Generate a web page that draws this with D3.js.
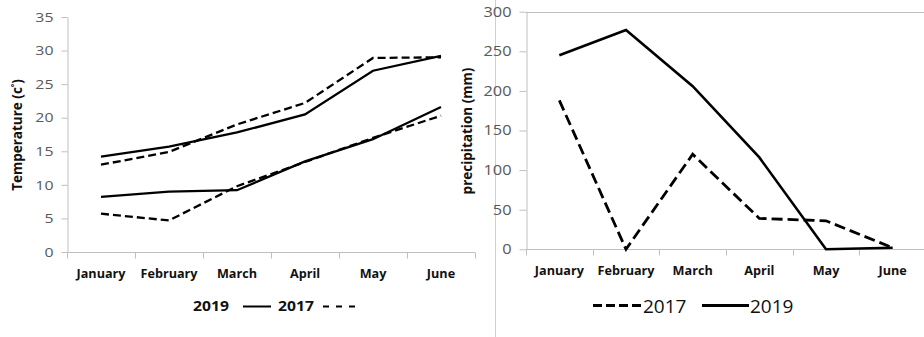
<!DOCTYPE html>
<html>
<head>
<meta charset="utf-8">
<script src="https://cdn.jsdelivr.net/npm/d3@7"></script>
<style>
  html, body { margin: 0; padding: 0; background: #fff; }
  svg { display: block; }
  text { font-family: "Open Sans", "Liberation Sans", sans-serif; }
</style>
</head>
<body>
<svg id="chart" width="924" height="337"></svg>
<script>
// Monthly data, January to June
const months = ["January", "February", "March", "April", "May", "June"];

// Temperature (°C): upper pair = maximum, lower pair = minimum
const tempMax2019 = [14.2, 15.7, 17.8, 20.5, 27.0, 29.2];
const tempMax2017 = [13.0, 14.9, 19.0, 22.2, 28.9, 29.0];
const tempMin2019 = [8.2, 9.0, 9.2, 13.5, 16.8, 21.6];
const tempMin2017 = [5.7, 4.7, 9.8, 13.4, 17.0, 20.3];

// Precipitation (mm)
const precip2017 = [188, 0, 120, 39, 36, 2];
const precip2019 = [245, 277, 206, 116, 0, 2];

const tempTicks = [0, 5, 10, 15, 20, 25, 30, 35];
const precipTicks = [0, 50, 100, 150, 200, 250, 300];

const svg = d3.select("#chart");
const axisColor = "#bfbfbf";

// Stretch text horizontally by factor k
function widen(sel, k) {
  sel.each(function () {
    const w = this.getComputedTextLength();
    this.setAttribute("textLength", w * k);
    this.setAttribute("lengthAdjust", "spacingAndGlyphs");
  });
}

function styleAxis(g) {
  g.select(".domain").attr("stroke", axisColor).attr("stroke-width", 1);
  g.selectAll(".tick line").attr("stroke", axisColor).attr("stroke-width", 1);
}

// Separator between the two panels
svg.append("line")
  .attr("x1", 495.5).attr("x2", 495.5)
  .attr("y1", 0).attr("y2", 337)
  .attr("stroke", "#cfcfcf").attr("stroke-width", 1);

// ---------- Temperature panel ----------
{
  const x = d3.scaleBand().domain(months).range([67, 475]);
  const y = d3.scaleLinear().domain([0, 35]).range([252, 17]);

  const yAxis = svg.append("g")
    .attr("transform", "translate(67.5,0)")
    .call(d3.axisLeft(y).tickValues(tempTicks).tickSize(6).tickPadding(8).tickSizeOuter(0));
  styleAxis(yAxis);
  yAxis.selectAll("text")
    .attr("fill", "#595959").style("font-size", "13px");
  widen(yAxis.selectAll("text"), 1.22);

  const xAxis = svg.append("g")
    .attr("transform", "translate(0,252.5)")
    .call(d3.axisBottom(x).tickSize(0).tickPadding(0));
  styleAxis(xAxis);
  xAxis.select(".domain").attr("d", "M67,0H475");
  xAxis.selectAll(".tick text")
    .attr("y", 25).attr("dy", 0)
    .attr("fill", "#111").style("font-size", "11.5px").style("font-weight", "bold");
  widen(xAxis.selectAll(".tick text"), 1.1);
  // tick marks at category boundaries
  const bounds = months.map(m => x(m)).concat([x.range()[1]]);
  xAxis.selectAll(".bound").data(bounds).join("line")
    .attr("class", "bound")
    .attr("x1", d => Math.round(d) + 0.5).attr("x2", d => Math.round(d) + 0.5)
    .attr("y1", 0).attr("y2", 6)
    .attr("stroke", axisColor);

  const line = d3.line()
    .x((d, i) => x(months[i]) + x.bandwidth() / 2)
    .y(d => y(d));

  const series = [
    { v: tempMax2019, dash: null },
    { v: tempMax2017, dash: "8,4" },
    { v: tempMin2019, dash: null },
    { v: tempMin2017, dash: "8,4" }
  ];
  svg.append("g").selectAll("path").data(series).join("path")
    .attr("d", d => line(d.v))
    .attr("fill", "none")
    .attr("stroke", "#000")
    .attr("stroke-width", 2.3)
    .attr("stroke-dasharray", d => d.dash);

  const yTitle = svg.append("text")
    .attr("transform", "translate(22,135) rotate(-90)")
    .attr("text-anchor", "middle")
    .attr("fill", "#111")
    .style("font-size", "13.5px").style("font-weight", "bold");
  yTitle.append("tspan").text("Temperature (c");
  yTitle.append("tspan").attr("dy", -5).style("font-size", "8px").text("°");
  yTitle.append("tspan").attr("dy", 5).text(")");

  // legend
  const lg = svg.append("g").style("font-size", "14px").style("font-weight", "bold").attr("fill", "#111");
  const t1 = lg.append("text").attr("x", 193).attr("y", 311).text("2019");
  widen(t1, 1.12);
  lg.append("line").attr("x1", 243).attr("x2", 271).attr("y1", 306.5).attr("y2", 306.5)
    .attr("stroke", "#000").attr("stroke-width", 2);
  const t2 = lg.append("text").attr("x", 278).attr("y", 311).text("2017");
  widen(t2, 1.12);
  lg.append("line").attr("x1", 323).attr("x2", 356).attr("y1", 306.5).attr("y2", 306.5)
    .attr("stroke", "#000").attr("stroke-width", 2.2).attr("stroke-dasharray", "6,7");
}

// ---------- Precipitation panel ----------
{
  const x = d3.scaleBand().domain(months).range([526, 926]);
  const y = d3.scaleLinear().domain([0, 300]).range([249.3, 11.7]);

  // top border of plot area
  svg.append("line")
    .attr("x1", 526).attr("x2", 924)
    .attr("y1", Math.round(y(300)) + 0.5).attr("y2", Math.round(y(300)) + 0.5)
    .attr("stroke", axisColor);

  const yAxis = svg.append("g")
    .attr("transform", "translate(526.5,0)")
    .call(d3.axisLeft(y).tickValues(precipTicks).tickSize(7).tickPadding(8).tickSizeOuter(0));
  styleAxis(yAxis);
  yAxis.selectAll("text")
    .attr("fill", "#595959").style("font-size", "14px");
  widen(yAxis.selectAll("text"), 1.17);

  const xAxis = svg.append("g")
    .attr("transform", `translate(0,${Math.round(y(0)) + 0.5})`)
    .call(d3.axisBottom(x).tickSize(0).tickPadding(0));
  styleAxis(xAxis);
  xAxis.select(".domain").attr("d", "M526,0H924");
  xAxis.selectAll(".tick text")
    .attr("y", 25).attr("dy", 0)
    .attr("fill", "#111").style("font-size", "11.5px").style("font-weight", "bold");
  widen(xAxis.selectAll(".tick text"), 1.1);
  const bounds = months.map(m => x(m));
  xAxis.selectAll(".bound").data(bounds).join("line")
    .attr("class", "bound")
    .attr("x1", d => Math.round(d) + 0.5).attr("x2", d => Math.round(d) + 0.5)
    .attr("y1", 0).attr("y2", 6)
    .attr("stroke", axisColor);

  const line = d3.line()
    .x((d, i) => x(months[i]) + x.bandwidth() / 2)
    .y(d => y(d));

  svg.append("path")
    .attr("d", line(precip2017))
    .attr("fill", "none").attr("stroke", "#000")
    .attr("stroke-width", 2.8).attr("stroke-dasharray", "11,5");
  svg.append("path")
    .attr("d", line(precip2019))
    .attr("fill", "none").attr("stroke", "#000")
    .attr("stroke-width", 2.6);

  svg.append("text")
    .attr("transform", "translate(472,131) rotate(-90)")
    .attr("text-anchor", "middle")
    .attr("fill", "#111")
    .style("font-size", "13.5px").style("font-weight", "bold")
    .text("precipitation (mm)");

  // legend
  const lg = svg.append("g").style("font-family", "'Liberation Sans', Arial, sans-serif")
    .style("font-size", "19px").attr("fill", "#111");
  lg.append("line").attr("x1", 593).attr("x2", 641).attr("y1", 305.5).attr("y2", 305.5)
    .attr("stroke", "#000").attr("stroke-width", 3).attr("stroke-dasharray", "9,4");
  lg.append("text").attr("x", 643).attr("y", 313).text("2017");
  lg.append("line").attr("x1", 702).attr("x2", 749).attr("y1", 305.5).attr("y2", 305.5)
    .attr("stroke", "#000").attr("stroke-width", 3);
  lg.append("text").attr("x", 750).attr("y", 313).text("2019");
}
</script>
</body>
</html>
